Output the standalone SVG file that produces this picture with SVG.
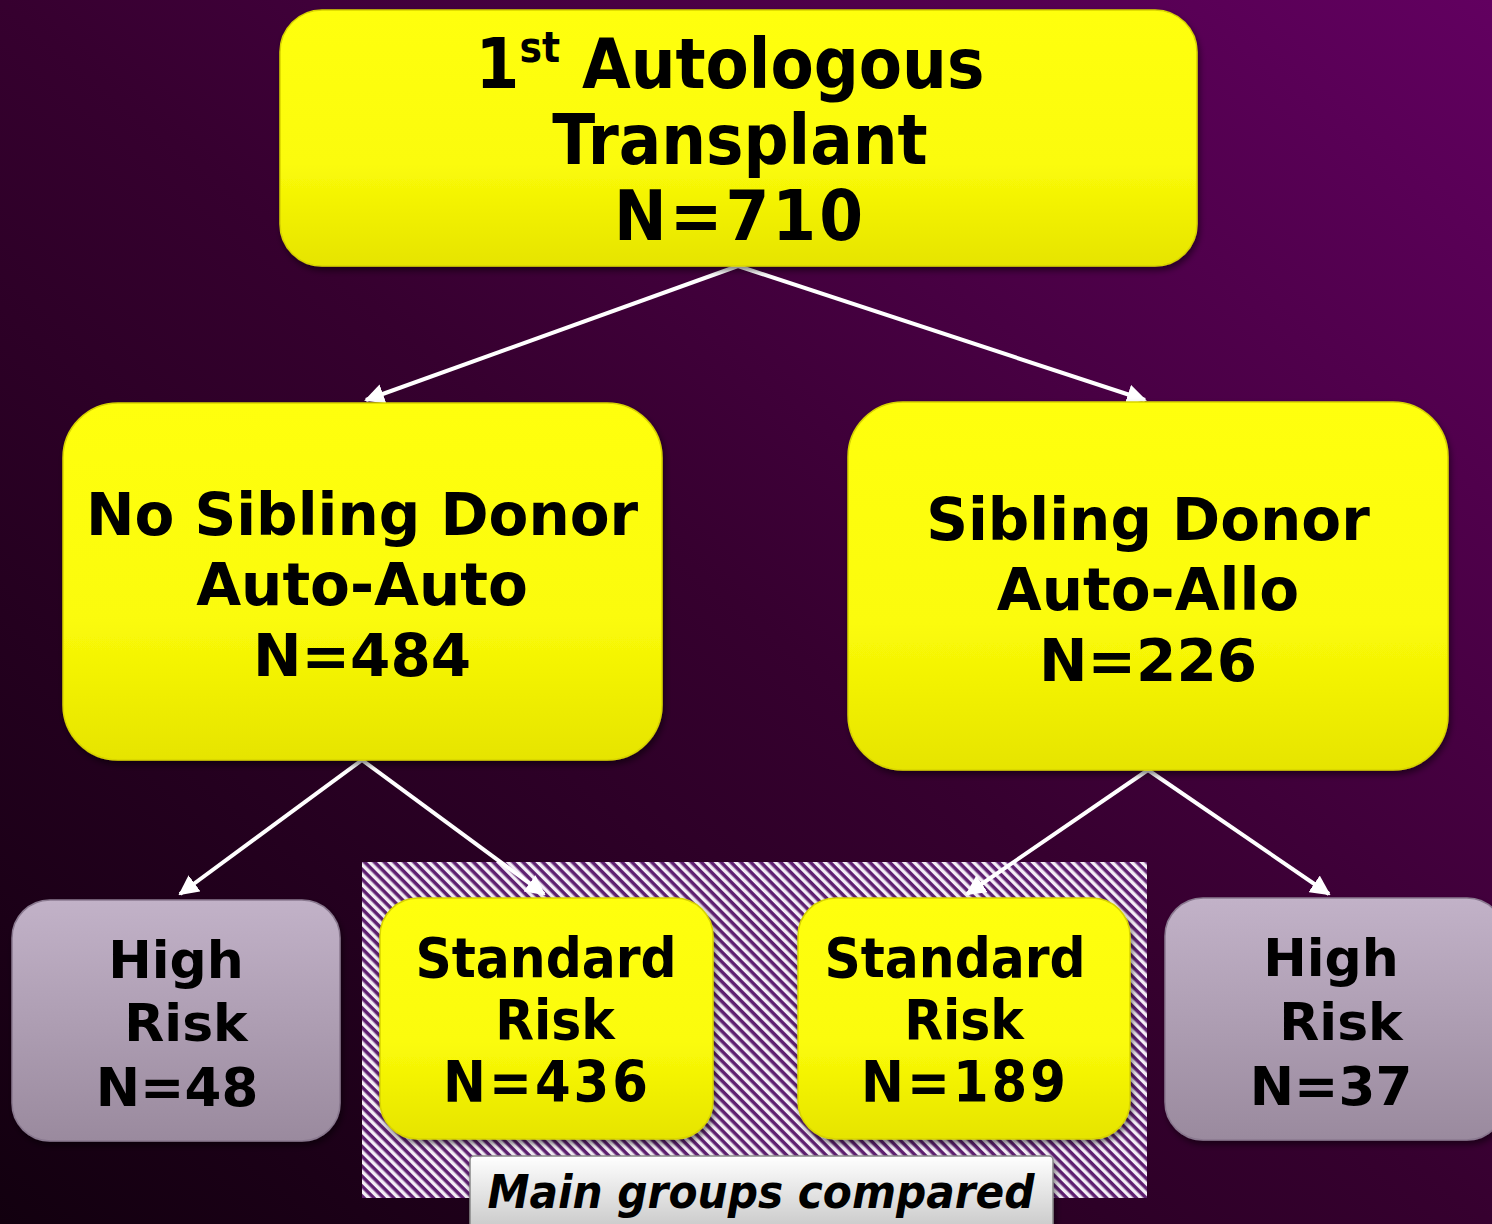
<svg xmlns="http://www.w3.org/2000/svg" width="1492" height="1224" viewBox="0 0 1492 1224">
<defs>
<linearGradient id="bg" x1="0" y1="1" x2="1" y2="0">
<stop offset="0" stop-color="#12000f"/>
<stop offset="0.5" stop-color="#36002f"/>
<stop offset="1" stop-color="#620060"/>
</linearGradient>
<linearGradient id="yel" x1="0" y1="0" x2="0" y2="1">
<stop offset="0" stop-color="#ffff10"/>
<stop offset="0.6" stop-color="#fbfb08"/>
<stop offset="1" stop-color="#e6e400"/>
</linearGradient>
<linearGradient id="lav" x1="0" y1="0" x2="0" y2="1">
<stop offset="0" stop-color="#c2b2c8"/>
<stop offset="1" stop-color="#9a8a9e"/>
</linearGradient>
<linearGradient id="gry" x1="0" y1="0" x2="0" y2="1">
<stop offset="0" stop-color="#ffffff"/>
<stop offset="1" stop-color="#c4c4c4"/>
</linearGradient>
<pattern id="hatch" width="7" height="7" patternUnits="userSpaceOnUse" patternTransform="rotate(-45)">
<rect width="7" height="7" fill="#5e2070"/>
<rect width="3.5" height="7" fill="#f4eef6"/>
</pattern>
<filter id="sh" x="-10%" y="-10%" width="120%" height="130%">
<feDropShadow dx="2" dy="4" stdDeviation="3" flood-color="#000" flood-opacity="0.5"/>
</filter>
<marker id="arr" viewBox="0 0 10 10" refX="9" refY="5" markerWidth="5" markerHeight="5" orient="auto" markerUnits="strokeWidth">
<path d="M0,0 L10,5 L0,10 z" fill="#ffffff"/>
</marker>
</defs>
<style>
.t{font-family:"DejaVu Sans","Verdana",sans-serif;font-weight:bold;fill:#000;text-anchor:middle}
.c{font-stretch:condensed}
.y{fill:url(#yel);stroke:#d8d400;stroke-width:1.5;filter:url(#sh)}
.l{fill:url(#lav);stroke:#8a7a90;stroke-width:1.5;filter:url(#sh)}
.e{stroke:#ffffff;stroke-width:4;fill:none;marker-end:url(#arr)}
.n{letter-spacing:3px}
</style>
<rect width="1492" height="1224" fill="url(#bg)"/>
<rect id="hatched" x="362" y="862" width="785" height="336" fill="url(#hatch)"/>

<g id="connectors">
<line class="e" x1="738" y1="266" x2="366" y2="400"/>
<line class="e" x1="738" y1="266" x2="1145" y2="400"/>
<line class="e" x1="362" y1="760" x2="180" y2="894"/>
<line class="e" x1="362" y1="760" x2="544" y2="894"/>
<line class="e" x1="1148" y1="770" x2="967" y2="894"/>
<line class="e" x1="1148" y1="770" x2="1329" y2="894"/>
</g>

<g id="root">
<rect class="y" x="280" y="10" width="917" height="256" rx="42"/>
<text class="t c" x="730" y="88" font-size="70">1<tspan font-size="42" dy="-26">st</tspan><tspan dy="26"> Autologous</tspan></text>
<text class="t c" x="740" y="164" font-size="70">Transplant</text>
<text class="t c n" x="740" y="240" font-size="70">N=710</text>
</g>

<g id="nosib">
<rect class="y" x="63" y="403" width="599" height="357" rx="55"/>
<text class="t" x="362" y="535" font-size="58">No Sibling Donor</text>
<text class="t" x="362" y="605" font-size="58">Auto-Auto</text>
<text class="t" x="362" y="676" font-size="58">N=484</text>
</g>

<g id="sib">
<rect class="y" x="848" y="402" width="600" height="368" rx="55"/>
<text class="t" x="1148" y="540" font-size="58">Sibling Donor</text>
<text class="t" x="1148" y="610" font-size="58">Auto-Allo</text>
<text class="t" x="1148" y="681" font-size="58">N=226</text>
</g>

<g id="high1">
<rect class="l" x="12" y="900" width="328" height="241" rx="38"/>
<text class="t" x="176" y="978" font-size="52">High</text>
<text class="t" x="186" y="1041" font-size="52">Risk</text>
<text class="t" x="177" y="1106" font-size="53">N=48</text>
</g>

<g id="std1">
<rect class="y" x="380" y="898" width="333" height="241" rx="38"/>
<text class="t c" x="546" y="977" font-size="56">Standard</text>
<text class="t c" x="555" y="1039" font-size="56">Risk</text>
<text class="t c n" x="547" y="1102" font-size="57">N=436</text>
</g>

<g id="std2">
<rect class="y" x="798" y="898" width="332" height="241" rx="38"/>
<text class="t c" x="955" y="977" font-size="56">Standard</text>
<text class="t c" x="964" y="1039" font-size="56">Risk</text>
<text class="t c n" x="965" y="1102" font-size="57">N=189</text>
</g>

<g id="high2">
<rect class="l" x="1165" y="898" width="340" height="242" rx="38"/>
<text class="t" x="1331" y="976" font-size="52">High</text>
<text class="t" x="1341" y="1040" font-size="52">Risk</text>
<text class="t" x="1331" y="1105" font-size="53">N=37</text>
</g>

<g id="label">
<rect x="470" y="1156" width="583" height="80" rx="4" fill="url(#gry)" stroke="#888" stroke-width="1.5" filter="url(#sh)"/>
<text class="t c" x="761" y="1208" font-size="47" font-style="italic">Main groups compared</text>
</g>
</svg>
